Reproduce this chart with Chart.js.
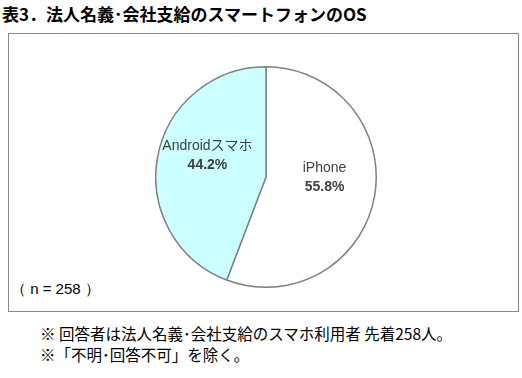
<!DOCTYPE html>
<html>
<head>
<meta charset="utf-8">
<script src="https://cdn.jsdelivr.net/npm/chart.js@4/dist/chart.umd.min.js"></script>
<style>
  body { margin: 0; background: #fff; width: 522px; height: 378px; position: relative; overflow: hidden;
         font-family: "Noto Sans CJK JP", sans-serif; color: #000; }
  #title { position: absolute; left: 2px; top: 1px; font-size: 17px; font-weight: bold; white-space: nowrap; }
  #box { position: absolute; left: 8px; top: 33px; width: 509px; height: 277px; border: 1px solid #888; }
  #pie { position: absolute; left: 146px; top: 32px; width: 222px; height: 222px; }
  #n { position: absolute; left: 2px; top: 246px; font-size: 15px; font-family: "Liberation Sans", Arial, sans-serif; }
  .note { position: absolute; left: 40px; font-size: 15.5px; white-space: nowrap; }
</style>
</head>
<body>
<div id="title">表3．法人名義･会社支給のスマートフォンのOS</div>
<div id="box">
  <div id="pie"><canvas id="c"></canvas></div>
  <div id="n">（ n = 258 ）</div>
</div>
<div class="note" style="top:322px">※ 回答者は法人名義･会社支給のスマホ利用者 先着258人。</div>
<div class="note" style="top:343px">※「不明･回答不可」を除く。</div>
<script>
const labels = ['iPhone', 'Androidスマホ'];
const shares = [55.8, 44.2];
const colors = ['#ffffff', '#ccffff'];

// draw category name + percentage inside each slice
const sliceLabels = {
  id: 'sliceLabels',
  afterDatasetsDraw(chart) {
    const ctx = chart.ctx;
    const meta = chart.getDatasetMeta(0);
    meta.data.forEach((arc, i) => {
      const p = arc.getProps(['x', 'y', 'startAngle', 'endAngle', 'outerRadius']);
      const mid = (p.startAngle + p.endAngle) / 2;
      const r = p.outerRadius * 0.54;
      const x = p.x + Math.cos(mid) * r;
      const y = p.y + Math.sin(mid) * r - 11;
      ctx.save();
      ctx.fillStyle = '#404040';
      ctx.textAlign = 'center';
      ctx.textBaseline = 'middle';
      ctx.font = '14px "Liberation Sans", "Noto Sans CJK JP", sans-serif';
      ctx.fillText(labels[i], x, y - 9);
      ctx.font = 'bold 14px "Liberation Sans", sans-serif';
      ctx.fillText(shares[i].toFixed(1) + '%', x, y + 10);
      ctx.restore();
    });
  }
};

new Chart(document.getElementById('c'), {
  type: 'pie',
  data: {
    labels: labels,
    datasets: [{
      data: shares,
      backgroundColor: colors,
      borderColor: '#808080',
      borderWidth: 1.5,
      borderAlign: 'center'
    }]
  },
  options: {
    responsive: true,
    maintainAspectRatio: false,
    animation: false,
    events: [],
    layout: { padding: 0 },
    plugins: { legend: { display: false }, tooltip: { enabled: false } }
  },
  plugins: [sliceLabels]
});
</script>
</body>
</html>
